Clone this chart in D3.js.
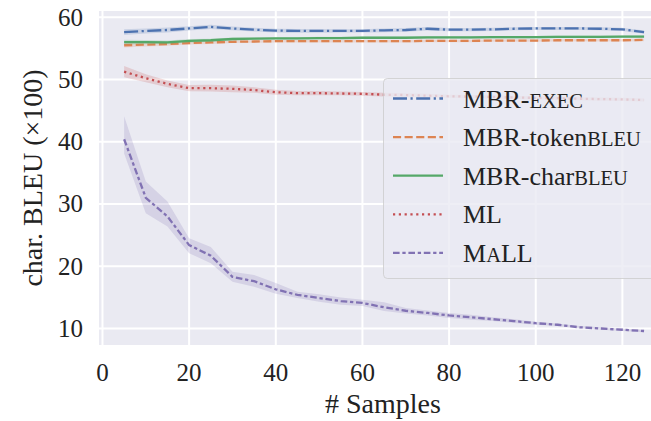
<!DOCTYPE html>
<html>
<head>
<meta charset="utf-8">
<script src="https://cdn.jsdelivr.net/npm/d3@7"></script>
<style>
  body { margin: 0; background: #fff; }
  text { font-family: "Liberation Serif", "DejaVu Serif", serif; fill: #222; }
</style>
</head>
<body>
<svg id="chart" width="651" height="421"></svg>
<script>

let samples = [5, 10, 15, 20, 25, 30, 35, 40, 45, 50, 55, 60, 65, 70, 75, 80, 85, 90, 95, 100, 105, 110, 115, 120, 125];

let mbrExec = [57.6, 57.8, 57.95, 58.2, 58.45, 58.2, 58.0, 57.85, 57.8, 57.8, 57.8, 57.8, 57.9, 57.95, 58.15, 58.0, 58.0, 58.05, 58.15, 58.2, 58.2, 58.2, 58.15, 58.05, 57.6];
let mbrExecErr = [0.45, 0.4, 0.4, 0.35, 0.35, 0.3, 0.3, 0.3, 0.3, 0.3, 0.25, 0.25, 0.3, 0.3, 0.3, 0.25, 0.25, 0.25, 0.25, 0.25, 0.25, 0.25, 0.25, 0.25, 0.25];

let mbrToken = [55.5, 55.6, 55.7, 55.85, 55.95, 56.05, 56.1, 56.15, 56.15, 56.15, 56.15, 56.15, 56.15, 56.15, 56.2, 56.2, 56.2, 56.25, 56.25, 56.25, 56.3, 56.3, 56.3, 56.3, 56.35];
let mbrTokenErr = [0.35, 0.3, 0.3, 0.25, 0.25, 0.2, 0.2, 0.2, 0.2, 0.2, 0.2, 0.2, 0.2, 0.2, 0.2, 0.2, 0.2, 0.2, 0.2, 0.2, 0.2, 0.2, 0.2, 0.2, 0.2];

let mbrChar = [56.0, 56.0, 55.95, 56.2, 56.3, 56.5, 56.55, 56.6, 56.6, 56.65, 56.65, 56.7, 56.7, 56.7, 56.75, 56.75, 56.75, 56.8, 56.8, 56.8, 56.85, 56.85, 56.85, 56.9, 56.9];
let mbrCharErr = [0.4, 0.35, 0.3, 0.3, 0.25, 0.25, 0.2, 0.2, 0.2, 0.2, 0.2, 0.2, 0.2, 0.2, 0.2, 0.2, 0.2, 0.2, 0.2, 0.2, 0.2, 0.2, 0.2, 0.2, 0.2];

let ml = [51.25, 50.2, 49.3, 48.6, 48.6, 48.5, 48.3, 47.95, 47.8, 47.8, 47.75, 47.7, 47.55, 47.5, 47.4, 47.3, 47.25, 47.2, 47.1, 47.05, 47.0, 46.9, 46.85, 46.8, 46.7];
let mlErr = [0.9, 0.65, 0.55, 0.5, 0.55, 0.55, 0.45, 0.4, 0.35, 0.35, 0.3, 0.3, 0.3, 0.3, 0.3, 0.25, 0.25, 0.25, 0.25, 0.25, 0.25, 0.25, 0.25, 0.25, 0.25];

let mall = [40.4, 31.0, 28.0, 23.4, 21.7, 18.3, 17.6, 16.3, 15.4, 14.9, 14.4, 14.1, 13.4, 12.85, 12.5, 12.1, 11.8, 11.5, 11.2, 10.85, 10.6, 10.2, 10.0, 9.8, 9.6];
let mallLo = [38.1, 28.5, 26.4, 22.1, 20.5, 17.5, 16.7, 15.6, 14.9, 14.3, 13.8, 13.6, 12.8, 12.4, 12.1, 11.7, 11.4, 11.2, 10.9, 10.6, 10.4, 10.0, 9.8, 9.6, 9.4];
let mallHi = [44.1, 33.6, 30.4, 24.5, 23.1, 19.1, 18.6, 17.3, 15.9, 15.5, 15.0, 14.6, 14.2, 13.3, 12.9, 12.5, 12.2, 11.8, 11.5, 11.1, 10.8, 10.4, 10.2, 10.0, 9.8];

let xTicks = [0, 20, 40, 60, 80, 100, 120];
let yTicks = [10, 20, 30, 40, 50, 60];

// legend labels: [text, smallcaps?]
let labels = [
  [["MBR-", false], ["exec", true]],
  [["MBR-token", false], ["bleu", true]],
  [["MBR-char", false], ["bleu", true]],
  [["ML", false]],
  [["M", false], ["a", true], ["LL", false]]
];

let colors = ["#4c72b0", "#dd8452", "#55a868", "#c44e52", "#8172b3"];
let dashes = ["14 3.5 2.2 3.5", "8.1 3.5", null, "2.2 3.6", "6.6 2.75 3.3 2.75"];

let plot = {left: 99, right: 651, top: 11, bottom: 345};

function make_scales() {
  return {
    x: d3.scaleLinear()
      .domain([-0.8, 126.6])
      .range([plot.left, plot.right]),
    y: d3.scaleLinear()
      .domain([7.35, 61.0])
      .range([plot.bottom, plot.top])
  }
}

function build_series() {
  let sym = (vals, err) => vals.map((v, i) => ({x: samples[i], y: v, lo: v - err[i], hi: v + err[i]}));
  return [
    sym(mbrExec, mbrExecErr),
    sym(mbrToken, mbrTokenErr),
    sym(mbrChar, mbrCharErr),
    sym(ml, mlErr),
    mall.map((v, i) => ({x: samples[i], y: v, lo: mallLo[i], hi: mallHi[i]}))
  ];
}

function draw(scales) {
  let svg = d3.select("#chart");

  svg.append("defs").append("clipPath").attr("id", "clip")
    .append("rect")
    .attr("x", plot.left).attr("y", plot.top)
    .attr("width", plot.right - plot.left)
    .attr("height", plot.bottom - plot.top);

  svg.append("rect")
    .attr("x", plot.left).attr("y", plot.top)
    .attr("width", plot.right - plot.left)
    .attr("height", plot.bottom - plot.top)
    .attr("fill", "#eaeaf2");

  // grid
  let grid = svg.append("g").attr("clip-path", "url(#clip)");
  grid.selectAll(".gx")
    .data(xTicks).enter()
    .append("line")
    .attr("x1", d => scales.x(d)).attr("x2", d => scales.x(d))
    .attr("y1", plot.top).attr("y2", plot.bottom)
    .attr("stroke", "#fff").attr("stroke-width", 2);
  grid.selectAll(".gy")
    .data(yTicks).enter()
    .append("line")
    .attr("x1", plot.left).attr("x2", plot.right)
    .attr("y1", d => scales.y(d)).attr("y2", d => scales.y(d))
    .attr("stroke", "#fff").attr("stroke-width", 2);

  // tick labels
  svg.append("g").selectAll("text")
    .data(xTicks).enter()
    .append("text")
    .attr("x", d => scales.x(d))
    .attr("y", 381)
    .attr("text-anchor", "middle")
    .attr("font-size", 25)
    .text(d => d);
  svg.append("g").selectAll("text")
    .data(yTicks).enter()
    .append("text")
    .attr("x", 83)
    .attr("y", d => scales.y(d) + 8.5)
    .attr("text-anchor", "end")
    .attr("font-size", 25)
    .text(d => d);

  // axis labels
  svg.append("text")
    .attr("x", 383).attr("y", 413)
    .attr("text-anchor", "middle")
    .attr("font-size", 28)
    .text("# Samples");
  svg.append("text")
    .attr("transform", "translate(42," + ((plot.top + plot.bottom) / 2) + ") rotate(-90)")
    .attr("text-anchor", "middle")
    .attr("font-size", 28)
    .text("char. BLEU (\u00d7100)");

  // bands and lines
  let series = build_series();
  let area = d3.area()
    .x(d => scales.x(d.x))
    .y0(d => scales.y(d.lo))
    .y1(d => scales.y(d.hi));
  let line = d3.line()
    .x(d => scales.x(d.x))
    .y(d => scales.y(d.y));

  let marks = svg.append("g").attr("clip-path", "url(#clip)");
  series.forEach((s, i) => {
    marks.append("path")
      .datum(s)
      .attr("d", area)
      .attr("fill", colors[i])
      .attr("fill-opacity", 0.2);
    marks.append("path")
      .datum(s)
      .attr("d", line)
      .attr("fill", "none")
      .attr("stroke", colors[i])
      .attr("stroke-width", 2.3)
      .attr("stroke-dasharray", dashes[i]);
  });

  draw_legend(svg);
}

function draw_legend(svg) {
  let lg = svg.append("g").attr("clip-path", "url(#clip)");
  lg.append("rect")
    .attr("x", 383.5).attr("y", 78.5)
    .attr("width", 300).attr("height", 200)
    .attr("rx", 4)
    .attr("fill", "#eaeaf2").attr("fill-opacity", 0.8)
    .attr("stroke", "#cccccc").attr("stroke-opacity", 0.8);

  let rows = lg.selectAll(".entry")
    .data(labels).enter()
    .append("g")
    .attr("transform", (d, i) => "translate(0," + (98.5 + i * 38.6) + ")");

  rows.append("line")
    .attr("x1", 393).attr("x2", 443)
    .attr("y1", 0).attr("y2", 0)
    .attr("stroke", (d, i) => colors[i])
    .attr("stroke-width", 2.3)
    .attr("stroke-dasharray", (d, i) => dashes[i]);

  let txt = rows.append("text")
    .attr("x", 463).attr("y", 9)
    .attr("font-size", 26);
  txt.selectAll("tspan")
    .data(d => d).enter()
    .append("tspan")
    .attr("font-size", d => d[1] ? 20.5 : 26)
    .text(d => d[1] ? d[0].toUpperCase() : d[0]);
}

draw(make_scales());
</script>
</body>
</html>
